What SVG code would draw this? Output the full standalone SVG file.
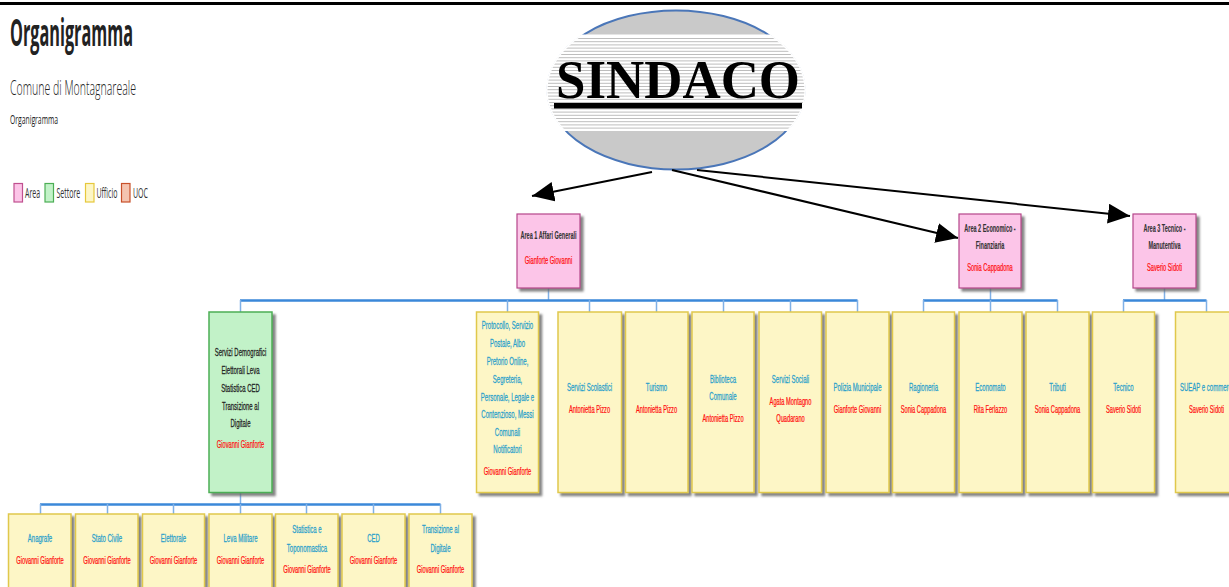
<svg xmlns="http://www.w3.org/2000/svg" width="1229" height="587" viewBox="0 0 1229 587">
<defs>
<style>
.t{font-family:"Liberation Sans",Arial,sans-serif;font-size:10px;text-anchor:middle;fill:#2a9fcb;stroke:#2a9fcb;stroke-width:0.25}
.n{fill:#ff1010;stroke:#ff1010}
.a{fill:#333;stroke:#333;font-weight:bold;stroke-width:0.1}
.g{fill:#222;stroke:#222}
.area{fill:#fcc5e8;stroke:#b5468a;stroke-width:1.2}
.sett{fill:#c2f2c8;stroke:#4cae55;stroke-width:1.5}
.uff{fill:#fdf6c6;stroke:#e0c84c;stroke-width:1.5}
.bar{stroke:#3b88d9;stroke-width:2.5;fill:none}
.v{stroke:#7fb0e6;stroke-width:1.5;fill:none}
.arr{stroke:#000;stroke-width:2;fill:none;marker-end:url(#ah)}
.hd{font-family:"Open Sans","Liberation Sans",sans-serif;fill:#222}
.lg{font-family:"Open Sans","Liberation Sans",sans-serif;font-size:14px;fill:#333}
</style>
<filter id="sh" x="-20%" y="-10%" width="140%" height="130%">
<feDropShadow dx="3" dy="3" stdDeviation="1" flood-color="#666" flood-opacity="0.8"/>
</filter>
<marker id="ah" markerUnits="userSpaceOnUse" markerWidth="24" markerHeight="22" refX="22" refY="10" orient="auto">
<path d="M0,0 L22,10 L0,20 z" fill="#000"/>
</marker>
<clipPath id="ec"><ellipse cx="676" cy="90" rx="130" ry="81"/></clipPath>
<clipPath id="ec2"><ellipse cx="676" cy="90" rx="128.5" ry="79.5"/></clipPath>
</defs>

<rect x="0" y="2" width="1229" height="3" fill="#000"/>

<g id="header">
<text class="hd" x="10" y="46" font-size="37" font-weight="bold" textLength="123" lengthAdjust="spacingAndGlyphs">Organigramma</text>
<text class="hd" x="10" y="95" font-size="20" font-weight="300" textLength="126" lengthAdjust="spacingAndGlyphs" fill="#333">Comune di Montagnareale</text>
<text class="hd" x="10" y="124" font-size="12" textLength="48" lengthAdjust="spacingAndGlyphs" fill="#333">Organigramma</text>
</g>

<g id="legend">
<rect x="14" y="183.5" width="8.5" height="18.5" fill="#fcc5e8" stroke="#c0508f" stroke-width="1.2"/>
<text class="lg" transform="translate(25,198) scale(0.5,1)">Area</text>
<rect x="45" y="183.5" width="8.5" height="18.5" fill="#c2f2c8" stroke="#4cae55" stroke-width="1.2"/>
<text class="lg" transform="translate(56.5,198) scale(0.5,1)">Settore</text>
<rect x="85.5" y="183.5" width="8.5" height="18.5" fill="#fdf6c6" stroke="#e6c83c" stroke-width="1.2"/>
<text class="lg" transform="translate(96.5,198) scale(0.5,1)">Ufficio</text>
<rect x="121.5" y="183.5" width="8.5" height="18.5" fill="#f4c4b0" stroke="#c8502a" stroke-width="1.2"/>
<text class="lg" transform="translate(133,198) scale(0.5,1)">UOC</text>
</g>

<g id="sindaco">
<ellipse cx="676" cy="90" rx="128.5" ry="79.5" fill="#c9c9c9" stroke="#4a76b8" stroke-width="2"/>
<g clip-path="url(#ec)">
<rect x="540" y="34.5" width="280" height="96.5" fill="#ffffff"/>
</g>
<g clip-path="url(#ec2)" stroke="#bdbdbd" stroke-width="1">
<path d="M540,38.5H820M540,41.7H820M540,44.9H820M540,48.1H820M540,51.3H820M540,54.5H820M540,57.7H820M540,60.9H820M540,64.1H820M540,67.3H820M540,70.5H820M540,73.7H820M540,76.9H820M540,80.1H820M540,83.3H820M540,86.5H820M540,89.7H820M540,92.9H820M540,96.1H820M540,99.3H820M540,102.5H820M540,105.7H820M540,108.9H820M540,112.1H820M540,115.3H820M540,118.5H820M540,121.7H820M540,124.9H820M540,128.1H820"/>
</g>
<text x="556" y="98" font-family="'Liberation Serif','Times New Roman',serif" font-weight="bold" font-size="54" textLength="244" lengthAdjust="spacingAndGlyphs" fill="#000">SINDACO</text>
<rect x="554" y="103" width="248" height="5.5" fill="#000"/>
</g>

<g id="connectors">
<line class="arr" x1="652" y1="172" x2="532" y2="196"/>
<line class="arr" x1="672" y1="170" x2="958" y2="238"/>
<line class="arr" x1="697" y1="170" x2="1130" y2="216"/>
<path class="v" d="M548.5,288V300M990.5,288V300M1164.5,288V300"/>
<path class="bar" d="M240,300.5H857.5M923,300.5H1057.5M1123,300.5H1206.5"/>
<path class="v" d="M240.5,300V312M507.5,300V312M589.5,300V312M656.5,300V312M723.5,300V312M790.5,300V312M857.5,300V312M923.5,300V312M990.5,300V312M1057.5,300V312M1123.5,300V312M1206.5,300V312"/>
<path class="v" d="M240.5,492V504"/>
<path class="bar" d="M40,504.5H440.5"/>
<path class="v" d="M40.5,504V514M107.5,504V514M173.5,504V514M240.5,504V514M306.5,504V514M373.5,504V514M440.5,504V514"/>
</g>

<g id="area1">
<rect class="area" x="517" y="214" width="63" height="74" filter="url(#sh)"/>
<text class="t a" transform="translate(548.5,239) scale(0.55,1)">Area 1 Affari Generali</text>
<text class="t n" transform="translate(548.5,264) scale(0.57,1)">Gianforte Giovanni</text>
</g>
<g id="area2">
<rect class="area" x="959" y="214" width="62" height="74" filter="url(#sh)"/>
<text class="t a" transform="translate(990,232) scale(0.55,1)">Area 2 Economico -</text>
<text class="t a" transform="translate(990,249) scale(0.55,1)">Finanziaria</text>
<text class="t n" transform="translate(990,271) scale(0.57,1)">Sonia Cappadona</text>
</g>
<g id="area3">
<rect class="area" x="1133" y="214" width="63" height="74" filter="url(#sh)"/>
<text class="t a" transform="translate(1164.5,232) scale(0.55,1)">Area 3 Tecnico -</text>
<text class="t a" transform="translate(1164.5,249) scale(0.55,1)">Manutentiva</text>
<text class="t n" transform="translate(1164.5,271) scale(0.57,1)">Saverio Sidoti</text>
</g>

<g id="servizi-demografici">
<rect class="sett" x="209" y="312" width="63" height="180.5" filter="url(#sh)"/>
<text class="t g" transform="translate(240.5,356) scale(0.6,1)">Servizi Demografici</text>
<text class="t g" transform="translate(240.5,374) scale(0.6,1)">Elettorali Leva</text>
<text class="t g" transform="translate(240.5,392) scale(0.6,1)">Statistica CED</text>
<text class="t g" transform="translate(240.5,410) scale(0.6,1)">Transizione al</text>
<text class="t g" transform="translate(240.5,427) scale(0.6,1)">Digitale</text>
<text class="t n" transform="translate(240.5,448) scale(0.57,1)">Giovanni Gianforte</text>
</g>

<g id="protocollo">
<rect class="uff" x="476.5" y="312" width="62" height="180.5" filter="url(#sh)"/>
<text class="t" transform="translate(507.5,329) scale(0.6,1)">Protocollo, Servizio</text>
<text class="t" transform="translate(507.5,347) scale(0.6,1)">Postale, Albo</text>
<text class="t" transform="translate(507.5,365) scale(0.6,1)">Pretorio Online,</text>
<text class="t" transform="translate(507.5,383) scale(0.6,1)">Segreteria,</text>
<text class="t" transform="translate(507.5,401) scale(0.6,1)">Personale, Legale e</text>
<text class="t" transform="translate(507.5,418) scale(0.6,1)">Contenzioso, Messi</text>
<text class="t" transform="translate(507.5,436) scale(0.6,1)">Comunali</text>
<text class="t" transform="translate(507.5,453) scale(0.6,1)">Notificatori</text>
<text class="t n" transform="translate(507.5,475) scale(0.57,1)">Giovanni Gianforte</text>
</g>

<g id="servizi-scolastici">
<rect class="uff" x="558" y="312" width="63.5" height="180.5" filter="url(#sh)"/>
<text class="t" transform="translate(589.5,391) scale(0.6,1)">Servizi Scolastici</text>
<text class="t n" transform="translate(589.5,413) scale(0.57,1)">Antonietta Pizzo</text>
</g>
<g id="turismo">
<rect class="uff" x="625.5" y="312" width="62.5" height="180.5" filter="url(#sh)"/>
<text class="t" transform="translate(656.5,391) scale(0.6,1)">Turismo</text>
<text class="t n" transform="translate(656.5,413) scale(0.57,1)">Antonietta Pizzo</text>
</g>
<g id="biblioteca">
<rect class="uff" x="692" y="312" width="62" height="180.5" filter="url(#sh)"/>
<text class="t" transform="translate(723,383) scale(0.6,1)">Biblioteca</text>
<text class="t" transform="translate(723,400) scale(0.6,1)">Comunale</text>
<text class="t n" transform="translate(723,422) scale(0.57,1)">Antonietta Pizzo</text>
</g>
<g id="servizi-sociali">
<rect class="uff" x="759" y="312" width="62.5" height="180.5" filter="url(#sh)"/>
<text class="t" transform="translate(790.5,383) scale(0.6,1)">Servizi Sociali</text>
<text class="t n" transform="translate(790.5,405) scale(0.57,1)">Agata Montagno</text>
<text class="t n" transform="translate(790.5,422) scale(0.57,1)">Quadarano</text>
</g>
<g id="polizia-municipale">
<rect class="uff" x="826" y="312" width="63" height="180.5" filter="url(#sh)"/>
<text class="t" transform="translate(857.5,391) scale(0.6,1)">Polizia Municipale</text>
<text class="t n" transform="translate(857.5,413) scale(0.57,1)">Gianforte Giovanni</text>
</g>
<g id="ragioneria">
<rect class="uff" x="892.5" y="312" width="62" height="180.5" filter="url(#sh)"/>
<text class="t" transform="translate(923.5,391) scale(0.6,1)">Ragioneria</text>
<text class="t n" transform="translate(923.5,413) scale(0.57,1)">Sonia Cappadona</text>
</g>
<g id="economato">
<rect class="uff" x="959" y="312" width="63" height="180.5" filter="url(#sh)"/>
<text class="t" transform="translate(990.5,391) scale(0.6,1)">Economato</text>
<text class="t n" transform="translate(990.5,413) scale(0.57,1)">Rita Ferlazzo</text>
</g>
<g id="tributi">
<rect class="uff" x="1026" y="312" width="63" height="180.5" filter="url(#sh)"/>
<text class="t" transform="translate(1057.5,391) scale(0.6,1)">Tributi</text>
<text class="t n" transform="translate(1057.5,413) scale(0.57,1)">Sonia Cappadona</text>
</g>
<g id="tecnico">
<rect class="uff" x="1092.5" y="312" width="62" height="180.5" filter="url(#sh)"/>
<text class="t" transform="translate(1123.5,391) scale(0.6,1)">Tecnico</text>
<text class="t n" transform="translate(1123.5,413) scale(0.57,1)">Saverio Sidoti</text>
</g>
<g id="sueap">
<rect class="uff" x="1175.5" y="312" width="63" height="180.5" filter="url(#sh)"/>
<text class="t" transform="translate(1180,391) scale(0.6,1)" style="text-anchor:start">SUEAP e commercio</text>
<text class="t n" transform="translate(1206.5,413) scale(0.57,1)">Saverio Sidoti</text>
</g>

<g id="anagrafe">
<rect class="uff" x="8.5" y="514" width="62.5" height="90" filter="url(#sh)"/>
<text class="t" transform="translate(40,542) scale(0.6,1)">Anagrafe</text>
<text class="t n" transform="translate(40,564) scale(0.57,1)">Giovanni Gianforte</text>
</g>
<g id="stato-civile">
<rect class="uff" x="75.5" y="514" width="62.5" height="90" filter="url(#sh)"/>
<text class="t" transform="translate(107,542) scale(0.6,1)">Stato Civile</text>
<text class="t n" transform="translate(107,564) scale(0.57,1)">Giovanni Gianforte</text>
</g>
<g id="elettorale">
<rect class="uff" x="142.5" y="514" width="62" height="90" filter="url(#sh)"/>
<text class="t" transform="translate(173.5,542) scale(0.6,1)">Elettorale</text>
<text class="t n" transform="translate(173.5,564) scale(0.57,1)">Giovanni Gianforte</text>
</g>
<g id="leva-militare">
<rect class="uff" x="209" y="514" width="63" height="90" filter="url(#sh)"/>
<text class="t" transform="translate(240.5,542) scale(0.6,1)">Leva Militare</text>
<text class="t n" transform="translate(240.5,564) scale(0.57,1)">Giovanni Gianforte</text>
</g>
<g id="statistica">
<rect class="uff" x="275.5" y="514" width="62.5" height="90" filter="url(#sh)"/>
<text class="t" transform="translate(307,533) scale(0.6,1)">Statistica e</text>
<text class="t" transform="translate(307,552) scale(0.6,1)">Toponomastica</text>
<text class="t n" transform="translate(307,573) scale(0.57,1)">Giovanni Gianforte</text>
</g>
<g id="ced">
<rect class="uff" x="342" y="514" width="63" height="90" filter="url(#sh)"/>
<text class="t" transform="translate(373.5,542) scale(0.6,1)">CED</text>
<text class="t n" transform="translate(373.5,564) scale(0.57,1)">Giovanni Gianforte</text>
</g>
<g id="transizione">
<rect class="uff" x="409" y="514" width="63" height="90" filter="url(#sh)"/>
<text class="t" transform="translate(440.5,533) scale(0.6,1)">Transizione al</text>
<text class="t" transform="translate(440.5,552) scale(0.6,1)">Digitale</text>
<text class="t n" transform="translate(440.5,573) scale(0.57,1)">Giovanni Gianforte</text>
</g>
</svg>
